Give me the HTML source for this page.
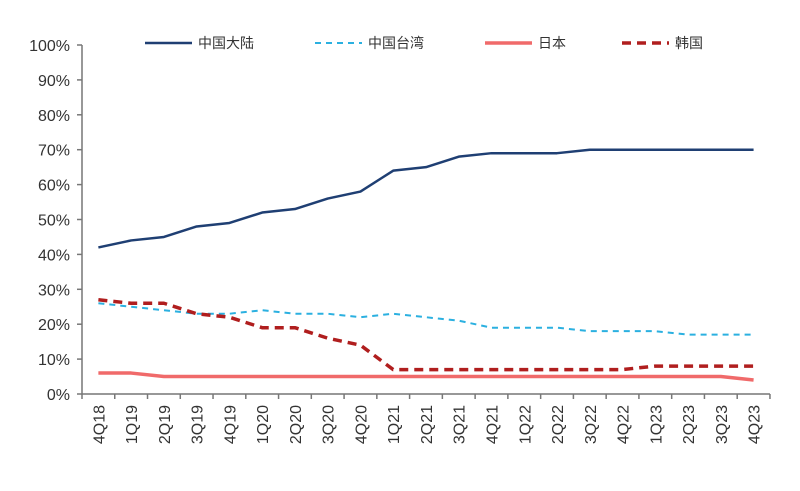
<!DOCTYPE html>
<html><head><meta charset="utf-8"><style>
body{margin:0;background:#fff;width:800px;height:486px;overflow:hidden}
svg text{font-family:"Liberation Sans","Noto Sans CJK SC",sans-serif;fill:#333}
</style></head><body>
<svg width="800" height="486" xmlns="http://www.w3.org/2000/svg">
<g id="ax" stroke="#777" stroke-width="1.5" fill="none"></g>
<g id="g"></g>
<g font-size="14">
<line x1="145" y1="43" x2="192" y2="43" stroke="#1f3f73" stroke-width="2.5"/>
<text x="198" y="48">中国大陆</text>
<line x1="315" y1="43" x2="362" y2="43" stroke="#2bb0e0" stroke-width="2" stroke-dasharray="6,5"/>
<text x="368" y="48">中国台湾</text>
<line x1="485" y1="43" x2="532" y2="43" stroke="#f06a6a" stroke-width="3.5"/>
<text x="538" y="48">日本</text>
<line x1="622" y1="43" x2="669" y2="43" stroke="#b01e1e" stroke-width="3.5" stroke-dasharray="9,6"/>
<text x="675" y="48">韩国</text>
</g>
</svg>
<script>
const ns="http://www.w3.org/2000/svg",svg=document.querySelector('svg');
function el(t,a,p,txt){const e=document.createElementNS(ns,t);for(const k in a)e.setAttribute(k,a[k]);if(txt)e.textContent=txt;(p||svg).appendChild(e);return e;}
const ax=document.getElementById('ax'),g=document.getElementById('g');
const X0=82,W=32.76,Y0=394,S=3.49;
el('line',{x1:X0,y1:45,x2:X0,y2:Y0},ax);
el('line',{x1:X0,y1:Y0,x2:X0+21*W,y2:Y0},ax);
for(let i=0;i<=10;i++){const y=Y0-i*10*S;el('line',{x1:X0-5,y1:y,x2:X0,y2:y},ax);
el('text',{x:X0-12,y:y+6,'text-anchor':'end','font-size':'16'},svg,(i*10)+'%');}
const labs=['4Q18','1Q19','2Q19','3Q19','4Q19','1Q20','2Q20','3Q20','4Q20','1Q21','2Q21','3Q21','4Q21','1Q22','2Q22','3Q22','4Q22','1Q23','2Q23','3Q23','4Q23'];
for(let i=0;i<=21;i++){const x=X0+i*W;el('line',{x1:x,y1:Y0,x2:x,y2:Y0+5},ax);}
labs.forEach((l,i)=>{const x=X0+(i+0.5)*W;el('text',{x:0,y:0,transform:`translate(${x+6},405) rotate(-90)`,'text-anchor':'end','font-size':'16'},svg,l);});
const D=[
[[42,44,45,48,49,52,53,56,58,64,65,68,69,69,69,70,70,70,70,70,70],'#1f3f73',2.5,''],
[[26,25,24,23,23,24,23,23,22,23,22,21,19,19,19,18,18,18,17,17,17],'#2bb0e0',2,'6,5'],
[[6,6,5,5,5,5,5,5,5,5,5,5,5,5,5,5,5,5,5,5,4],'#f06a6a',3.5,''],
[[27,26,26,23,22,19,19,16,14,7,7,7,7,7,7,7,7,8,8,8,8],'#b01e1e',3.5,'9,6']];
D.forEach(([d,c,w,da])=>{el('polyline',{points:d.map((v,i)=>(X0+(i+0.5)*W)+','+(Y0-v*S)).join(' '),fill:'none',stroke:c,'stroke-width':w,'stroke-dasharray':da,'stroke-linejoin':'round'},g);});
</script>
</body></html>
